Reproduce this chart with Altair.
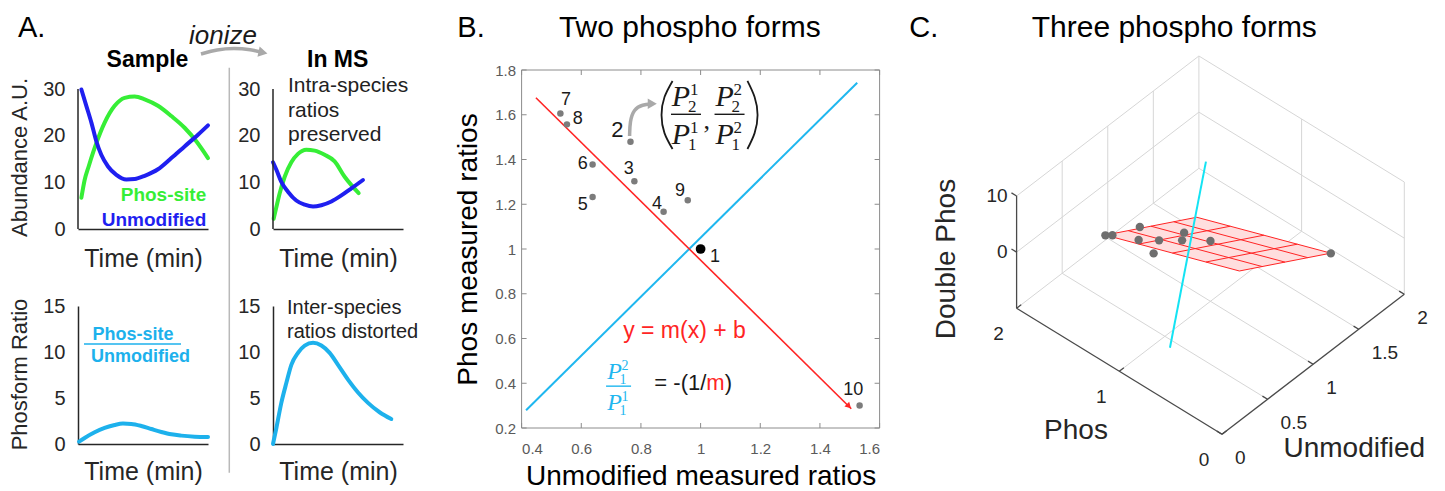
import altair as alt
import numpy as np
import pandas as pd

FONT = "Liberation Sans"
SERIF = "Liberation Serif"
INK = "#262626"
GREEN = "#36ee36"
BLUE = "#1f1ff0"
SKY = "#1db1ec"
RED = "#ff2424"
CYAN_B = "#1fb7ef"
CYAN_C = "#14e3f3"
PT_GRAY = "#7c7c7c"
ARROW_GRAY = "#a9a9a9"
BOX_GRAY = "#8c8c8c"
GRID_GRAY = "#d6d6d6"
AXIS_C = "#4a4a4a"

# ---------------- Panel A data (time in arbitrary units, 0-10) ----------------
a1_phos_t = [0.26, 0.51, 0.82, 1.15, 1.41, 2.05, 2.82, 3.59, 4.36, 5.13, 6.15, 7.18, 8.2, 9.1, 10.0]
a1_phos_v = [6.7, 10.5, 13.4, 16.3, 18.4, 22.8, 26.4, 28.1, 28.4, 27.8, 26.4, 24.2, 21.7, 18.8, 15.2]
a1_unmod_t = [0.26, 0.64, 1.03, 1.41, 1.79, 2.31, 2.95, 3.72, 4.36, 5.13, 6.15, 7.18, 8.2, 9.23, 10.0]
a1_unmod_v = [29.9, 26.4, 22.8, 18.8, 15.9, 13.4, 11.6, 10.6, 10.7, 11.4, 12.8, 15.2, 17.7, 20.2, 22.2]
a2_phos_t = [0.05, 0.26, 0.51, 0.9, 1.41, 1.92, 2.56, 3.2, 3.97, 4.74, 5.51, 6.03, 6.59]
a2_phos_v = [2.2, 4.7, 7.6, 11.2, 14.3, 16.1, 17.0, 16.8, 15.9, 14.5, 11.2, 9.4, 7.7]
a2_unmod_t = [0.0, 0.26, 0.64, 1.15, 1.79, 2.44, 3.08, 3.72, 4.49, 5.26, 6.03, 6.92]
a2_unmod_v = [14.3, 12.7, 10.1, 8.0, 6.1, 5.2, 4.8, 5.1, 5.9, 7.2, 8.7, 10.5]
a3_ratio_t = [0.08, 0.51, 1.28, 2.05, 2.82, 3.46, 4.1, 4.87, 5.64, 6.41, 7.18, 7.95, 8.97, 10.0]
a3_ratio_v = [0.25, 0.65, 1.27, 1.74, 2.07, 2.22, 2.18, 1.96, 1.63, 1.31, 1.05, 0.91, 0.8, 0.76]
a4_ratio_t = [0.0, 0.26, 0.64, 1.03, 1.41, 1.92, 2.44, 3.08, 3.72, 4.36, 5.0, 5.77, 6.54, 7.31, 8.2, 9.1]
a4_ratio_v = [0.0, 1.74, 4.47, 6.65, 8.6, 9.9, 10.7, 11.0, 10.7, 9.9, 8.6, 7.0, 5.6, 4.47, 3.45, 2.72]
abundance_ticks = [0, 10, 20, 30]
ratio_ticks = [0, 5, 10, 15]
ionize_arrow_t = [-5.54, -4.31, -3.0, -1.69, -0.77]
ionize_arrow_v = [37.5, 38.46, 38.79, 38.46, 37.82]

# ---------------- Panel B data ----------------
B_ids = ["1", "2", "3", "4", "5", "6", "7", "8", "9", "10"]
B_unmod = [1.0, 0.765, 0.778, 0.876, 0.638, 0.638, 0.53, 0.552, 0.957, 1.533]
B_phos = [1.0, 1.479, 1.303, 1.166, 1.232, 1.378, 1.606, 1.557, 1.218, 0.301]
B_label_x = [1.048, 0.721, 0.759, 0.854, 0.605, 0.605, 0.549, 0.588, 0.931, 1.512]
B_label_y = [0.963, 1.530, 1.356, 1.202, 1.196, 1.378, 1.664, 1.579, 1.259, 0.371]
B_xlim = [0.4, 1.6]
B_ylim = [0.2, 1.8]
B_xticks = [0.4, 0.6, 0.8, 1.0, 1.2, 1.4, 1.6]
B_yticks = [0.2, 0.4, 0.6, 0.8, 1.0, 1.2, 1.4, 1.6, 1.8]
red_fit_x = [0.448, 1.505]
red_fit_y = [1.676, 0.286]
cyan_perp_x = [0.415, 1.525]
cyan_perp_y = [0.279, 1.743]
pointer_x = [0.762, 0.763, 0.776, 0.805, 0.838]
pointer_y = [1.505, 1.570, 1.625, 1.645, 1.649]
paren_l_x = [0.906, 0.879, 0.869, 0.879, 0.906]
paren_r_x = [1.157, 1.181, 1.191, 1.181, 1.157]
paren_y = [1.751, 1.679, 1.599, 1.518, 1.447]

# ---------------- Panel C data ----------------
C_double = [0.74, 0.78, 0.22, 0.54, 0.45, 1.18, 0.81, 1.10, 0.31, -0.26]
C_unmod_ticks = [0, 0.5, 1, 1.5, 2]
C_phos_ticks = [0, 1, 2]
C_z_ticks = [0, 10]
C_z_lim = [-10, 10]
mesh_u = [0.53, 0.78, 1.03, 1.28, 1.533]
mesh_p = [0.301, 0.627, 0.953, 1.28, 1.606]
plane_coef = [9.1, -9.3, -6.32]          # z = a + b*(u-0.53) + c*(p-0.301)
normal_u = [0.434, 1.195]
normal_p = [0.892, 1.217]
normal_z = [-10, 10]

HEAD_DY = -33          # baseline of panel letters / titles, relative to the shared plot origin
LETTER_SIZE = 29
TITLE_SIZE = 30


# ======================= Panel A =======================
def a_x(pad):
    return alt.X("t:Q", scale=alt.Scale(domain=[0, 10], nice=False, zero=False),
                 axis=alt.Axis(labels=False, ticks=False, grid=False, domainColor=INK, domainWidth=1.5,
                               title="Time (min)", titleFontSize=25, titleFontWeight="normal",
                               titleColor=INK, titlePadding=pad))


def a_y(ymax, vals, show_domain):
    return alt.Y("v:Q", scale=alt.Scale(domain=[0, ymax], nice=False, zero=False),
                 axis=alt.Axis(values=vals, grid=False, ticks=False, domain=show_domain,
                               domainColor=INK, domainWidth=1.5,
                               labelFontSize=20, labelColor=INK, labelPadding=13, title=""))


def curve(t, v, color, x, y):
    return alt.Chart(pd.DataFrame({"t": t, "v": v})).mark_line(
        color=color, strokeWidth=4, interpolate="monotone", strokeCap="round").encode(x=x, y=y)


def txt(s, x, y, **mk):
    return alt.Chart(pd.DataFrame({"s": [s]})).mark_text(**mk).encode(
        text="s:N", x=alt.value(x), y=alt.value(y))


def y_axis_line(y, top):
    return alt.Chart(pd.DataFrame({"v": [0], "v2": [top]})).mark_rule(color=INK, strokeWidth=1.5).encode(
        x=alt.value(0), y=y, y2=alt.Y2("v2:Q"))


TOP_H = 159                       # taller top plots so every panel shares the same plot origin
TOP_MAX = 30 * TOP_H / 140.0

x1, y1 = a_x(17), a_y(TOP_MAX, abundance_ticks, False)
a1 = alt.layer(
    curve(a1_phos_t, a1_phos_v, GREEN, x1, y1),
    curve(a1_unmod_t, a1_unmod_v, BLUE, x1, y1),
    y_axis_line(y1, abundance_ticks[-1]),
    txt("A.", -60, HEAD_DY, fontSize=LETTER_SIZE, align="left", baseline="alphabetic", color="black"),
    txt("Abundance A.U.", -58, 87.5, fontSize=22, angle=270, align="center", baseline="middle", color=INK),
    txt("Sample", 69.5, -3, fontSize=23, fontWeight="bold", align="center", baseline="alphabetic", color="black"),
    txt("Phos-site", 85.5, 131, fontSize=19, fontWeight="bold", align="center", baseline="alphabetic", color=GREEN),
    txt("Unmodified", 76, 156, fontSize=19, fontWeight="bold", align="center", baseline="alphabetic", color=BLUE),
).properties(width=130, height=TOP_H)

x2, y2 = a_x(17), a_y(TOP_MAX, abundance_ticks, False)
arrow_df = pd.DataFrame({"t": ionize_arrow_t, "v": ionize_arrow_v})
a2 = alt.layer(
    curve(a2_phos_t, a2_phos_v, GREEN, x2, y2),
    curve(a2_unmod_t, a2_unmod_v, BLUE, x2, y2),
    y_axis_line(y2, abundance_ticks[-1]),
    alt.Chart(pd.DataFrame({"d": [0]})).mark_rule(color="#b9b9b9", strokeWidth=1.5).encode(
        x=alt.value(-43.7), y=alt.value(-2.3), y2=alt.value(402.7)),
    alt.Chart(arrow_df).mark_line(color=ARROW_GRAY, strokeWidth=3.5, interpolate="basis").encode(x=x2, y=y2),
    alt.Chart(arrow_df.tail(1)).mark_point(shape="triangle-right", filled=True, size=110, opacity=1,
                                           color=ARROW_GRAY, angle=12).encode(x=x2, y=y2),
    txt("ionize", -50, -26, fontSize=26, fontStyle="italic", align="center", baseline="alphabetic", color="#1a1a1a"),
    txt("In MS", 64.7, -3, fontSize=23, fontWeight="bold", align="center", baseline="alphabetic", color="black"),
    txt("Intra-species\nratios\npreserved", 15, 22, fontSize=21, lineBreak="\n", lineHeight=24.5,
        align="left", baseline="alphabetic", color="#222222"),
).properties(width=130, height=TOP_H)

x3, y3 = a_x(15), a_y(15, ratio_ticks, True)
a3 = alt.layer(
    curve(a3_ratio_t, a3_ratio_v, SKY, x3, y3),
    txt("Phosform Ratio", -58, 68.5, fontSize=22, angle=270, align="center", baseline="middle", color=INK),
    txt("Phos-site", 55, 34, fontSize=18, fontWeight="bold", align="center", baseline="alphabetic", color=SKY),
    alt.Chart(pd.DataFrame({"d": [0]})).mark_rule(color=SKY, strokeWidth=1.5).encode(
        x=alt.value(6), x2=alt.value(103), y=alt.value(38)),
    txt("Unmodified", 62.5, 56, fontSize=18, fontWeight="bold", align="center", baseline="alphabetic", color=SKY),
).properties(width=130, height=138)

x4, y4 = a_x(15), a_y(15, ratio_ticks, True)
a4 = alt.layer(
    curve(a4_ratio_t, a4_ratio_v, SKY, x4, y4),
    txt("Inter-species\nratios distorted", 14, 8, fontSize=20, lineBreak="\n", lineHeight=24,
        align="left", baseline="alphabetic", color="#222222"),
).properties(width=130, height=138)

panelA = alt.concat(a1, a2, a3, a4, columns=2, spacing={"row": 77, "column": 65}, bounds="flush")

# ======================= Panel B =======================
xB = alt.X("x:Q", scale=alt.Scale(domain=B_xlim, nice=False, zero=False),
           axis=alt.Axis(values=B_xticks, format=".1~f", domain=False, ticks=False, grid=False,
                         labelFontSize=15, labelColor="#5a5a5a", labelPadding=13,
                         title="Unmodified measured ratios", titleFontSize=28, titleFontWeight="normal",
                         titleColor="black", titlePadding=6))
yB = alt.Y("y:Q", scale=alt.Scale(domain=B_ylim, nice=False, zero=False),
           axis=alt.Axis(values=B_yticks, format=".1~f", domain=False, ticks=False, grid=False,
                         labelFontSize=15, labelColor="#5a5a5a", labelPadding=6,
                         title="Phos measured ratios", titleFontSize=28, titleFontWeight="normal",
                         titleColor="black", titlePadding=12))
x2B = alt.X2("x2:Q")
y2B = alt.Y2("y2:Q")

box_df = pd.DataFrame({
    "x": [B_xlim[0], B_xlim[0], B_xlim[0], B_xlim[1]],
    "x2": [B_xlim[1], B_xlim[1], B_xlim[0], B_xlim[1]],
    "y": [B_ylim[0], B_ylim[1], B_ylim[0], B_ylim[0]],
    "y2": [B_ylim[0], B_ylim[1], B_ylim[1], B_ylim[1]],
})
tx = 5 / 298.1
ty = 5 / 223.6
tick_rows = []
for v in B_xticks:
    tick_rows.append((v, B_ylim[0], v, B_ylim[0] + ty))
    tick_rows.append((v, B_ylim[1], v, B_ylim[1] - ty))
for v in B_yticks:
    tick_rows.append((B_xlim[0], v, B_xlim[0] + tx, v))
    tick_rows.append((B_xlim[1], v, B_xlim[1] - tx, v))
ticks_df = pd.DataFrame(tick_rows, columns=["x", "y", "x2", "y2"])

pts = pd.DataFrame({"x": B_unmod, "y": B_phos, "id": B_ids})
labs = pd.DataFrame({"x": B_label_x, "y": B_label_y, "id": B_ids})


def fraction_layers(df, color, psize, ssize, barlen, num_base, den_base, pdx, sdx, sup_up, sub_down):
    base = alt.Chart(df).encode(x=xB, y=yB)
    common = dict(font=SERIF, color=color, baseline="alphabetic")
    return [
        base.mark_tick(orient="horizontal", size=barlen, thickness=1.4, color=color, opacity=1),
        base.mark_text(text="P", fontStyle="italic", fontSize=psize, dx=pdx, dy=num_base, align="center", **common),
        base.mark_text(fontSize=ssize, dx=sdx, dy=num_base - sup_up, align="left", **common).encode(text="ns:N"),
        base.mark_text(fontSize=ssize, dx=sdx - 2, dy=num_base + sub_down, align="left", **common).encode(text="nb:N"),
        base.mark_text(text="P", fontStyle="italic", fontSize=psize, dx=pdx, dy=den_base, align="center", **common),
        base.mark_text(fontSize=ssize, dx=sdx, dy=den_base - sup_up, align="left", **common).encode(text="ds:N"),
        base.mark_text(fontSize=ssize, dx=sdx - 2, dy=den_base + sub_down, align="left", **common).encode(text="db:N"),
    ]


frac_big = pd.DataFrame({"x": [0.951, 1.097], "y": [1.602, 1.602],
                         "ns": ["1", "2"], "nb": ["2", "2"], "ds": ["1", "2"], "db": ["1", "1"]})
frac_cyan = pd.DataFrame({"x": [0.725], "y": [0.387], "ns": ["2"], "nb": ["1"], "ds": ["1"], "db": ["1"]})
paren_df = pd.DataFrame({
    "x": paren_l_x + paren_r_x,
    "y": paren_y + paren_y,
    "side": ["l"] * len(paren_y) + ["r"] * len(paren_y),
    "o": list(range(len(paren_y))) * 2,
})
comma = pd.DataFrame({"x": [1.0206], "y": [1.572], "s": [","]})
eq_df = pd.DataFrame({"x": [0.946], "y": [0.633], "s": ["y = m(x)  + b"]})
perp_df = pd.DataFrame({"x": [0.845], "y": [0.402]})

pointer_df = pd.DataFrame({"x": pointer_x, "y": pointer_y, "o": list(range(len(pointer_x)))})

layersB = [
    alt.Chart(box_df).mark_rule(color=BOX_GRAY, strokeWidth=1).encode(x=xB, y=yB, x2=x2B, y2=y2B),
    alt.Chart(ticks_df).mark_rule(color=BOX_GRAY, strokeWidth=1).encode(x=xB, y=yB, x2=x2B, y2=y2B),
    alt.Chart(pd.DataFrame({"x": cyan_perp_x, "y": cyan_perp_y})).mark_line(color=CYAN_B, strokeWidth=2).encode(x=xB, y=yB),
    alt.Chart(pd.DataFrame({"x": red_fit_x, "y": red_fit_y})).mark_line(color=RED, strokeWidth=1.6).encode(x=xB, y=yB),
    alt.Chart(pd.DataFrame({"x": [red_fit_x[1] - 0.008], "y": [red_fit_y[1] + 0.011]})).mark_point(
        shape="triangle-right", filled=True, size=45, color=RED, opacity=1, angle=45).encode(x=xB, y=yB),
    alt.Chart(pts[pts.id != "1"]).mark_point(filled=True, size=42, color=PT_GRAY, opacity=1).encode(x=xB, y=yB),
    alt.Chart(pts[pts.id == "1"]).mark_point(filled=True, size=95, color="black", opacity=1).encode(x=xB, y=yB),
    alt.Chart(labs[labs.id != "2"]).mark_text(fontSize=18, color="#1a1a1a", align="center", baseline="middle").encode(
        x=xB, y=yB, text="id:N"),
    alt.Chart(labs[labs.id == "2"]).mark_text(fontSize=22, color="#1a1a1a", align="center", baseline="middle").encode(
        x=xB, y=yB, text="id:N"),
    alt.Chart(pointer_df).mark_line(color=ARROW_GRAY, strokeWidth=3.5, interpolate="basis").encode(
        x=xB, y=yB, order="o:Q"),
    alt.Chart(pointer_df.tail(1)).mark_point(shape="triangle-right", filled=True, size=110, color=ARROW_GRAY,
                                             opacity=1).encode(x=xB, y=yB),
    alt.Chart(paren_df).mark_line(color="#1a1a1a", strokeWidth=1.8, interpolate="natural").encode(
        x=xB, y=yB, detail="side:N", order="o:Q"),
    alt.Chart(comma).mark_text(font=SERIF, fontSize=26, color="#1a1a1a", align="center", baseline="middle").encode(
        x=xB, y=yB, text="s:N"),
    alt.Chart(eq_df).mark_text(fontSize=23, color=RED, align="center", baseline="middle").encode(x=xB, y=yB, text="s:N"),
    alt.Chart(perp_df).mark_text(text="= -(1/", fontSize=22, color="#1a1a1a", align="left", baseline="middle").encode(x=xB, y=yB),
    alt.Chart(perp_df).mark_text(text="m", fontSize=22, color=RED, align="left", baseline="middle", dx=52).encode(x=xB, y=yB),
    alt.Chart(perp_df).mark_text(text=")", fontSize=22, color="#1a1a1a", align="left", baseline="middle", dx=70.3).encode(x=xB, y=yB),
    txt("B.", -64.3, HEAD_DY, fontSize=LETTER_SIZE, align="left", baseline="alphabetic", color="black"),
    txt("Two phospho forms", 168.2, HEAD_DY, fontSize=TITLE_SIZE, align="center", baseline="alphabetic", color="black"),
]
layersB += fraction_layers(frac_big, "#1a1a1a", 30, 17, 30, -8, 30, -5, 4, 11, 6)
layersB += fraction_layers(frac_cyan, CYAN_B, 24, 14, 25, -7, 24, -4, 3, 9, 5)
panelB = alt.layer(*layersB).properties(width=358, height=358)


# ======================= Panel C =======================
def proj(u, p, z):
    u = np.asarray(u, dtype=float)
    p = np.asarray(p, dtype=float)
    z = np.asarray(z, dtype=float)
    return 1222.7 + 91.15 * u - 102.7 * p, 433.3 - 70.0 * u - 63.0 * p - 5.615 * (z + 10)


def seg_df(segs):
    rows = []
    for (a, b) in segs:
        xa, ya = proj(*a)
        xb, yb = proj(*b)
        rows.append((float(xa), float(ya), float(xb), float(yb)))
    return pd.DataFrame(rows, columns=["x", "y", "x2", "y2"])


def plane_z(u, p):
    return plane_coef[0] + plane_coef[1] * (np.asarray(u) - mesh_u[0]) + plane_coef[2] * (np.asarray(p) - mesh_p[0])


U0, U1 = C_unmod_ticks[0], C_unmod_ticks[-1]
P0, P1 = C_phos_ticks[0], C_phos_ticks[-1]
Z0, Z1 = C_z_lim
light = [((U0, P1, Z0), (U1, P1, Z0)), ((U1, P0, Z0), (U1, P1, Z0))]
light += [((U0, p, Z0), (U1, p, Z0)) for p in C_phos_ticks[1:-1]]
light += [((u, P0, Z0), (u, P1, Z0)) for u in C_unmod_ticks[1:-1]]
light += [((u, P1, Z0), (u, P1, Z1)) for u in C_unmod_ticks[1:]]
light += [((U0, P1, z), (U1, P1, z)) for z in C_z_ticks]
light += [((U1, p, Z0), (U1, p, Z1)) for p in C_phos_ticks[:-1]]
light += [((U1, P0, z), (U1, P1, z)) for z in C_z_ticks]
dark = [((U0, P1, Z0), (U0, P1, Z1)), ((U0, P0, Z0), (U0, P1, Z0)), ((U0, P0, Z0), (U1, P0, Z0))]
tk = 0.05
cticks = [((U0, p, Z0), (U0 + tk, p, Z0)) for p in C_phos_ticks]
cticks += [((u, P0, Z0), (u, P0 + tk, Z0)) for u in C_unmod_ticks]
cticks += [((U0, P1, z), (U0, P1 + tk, z)) for z in C_z_ticks]

mesh = [((mesh_u[0], p, plane_z(mesh_u[0], p)), (mesh_u[-1], p, plane_z(mesh_u[-1], p))) for p in mesh_p]
mesh += [((u, mesh_p[0], plane_z(u, mesh_p[0])), (u, mesh_p[-1], plane_z(u, mesh_p[-1]))) for u in mesh_u]

# plane fill polygon -> area (upper / lower chains)
cu = [mesh_u[0], mesh_u[-1], mesh_u[-1], mesh_u[0]]
cp = [mesh_p[-1], mesh_p[-1], mesh_p[0], mesh_p[0]]
cx, cy = proj(cu, cp, plane_z(cu, cp))
L, T, R, Bo = 0, 1, 2, 3
xs = np.sort(cx)
upper = np.interp(xs, [cx[L], cx[T], cx[R]], [cy[L], cy[T], cy[R]])
lower = np.interp(xs, [cx[L], cx[Bo], cx[R]], [cy[L], cy[Bo], cy[R]])
fill_df = pd.DataFrame({"x": xs, "y": upper, "y2": lower})

nx, ny = proj(normal_u, normal_p, normal_z)
normal_df = pd.DataFrame({"x": nx, "y": ny})
px_, py_ = proj(B_unmod, B_phos, C_double)
cpts = pd.DataFrame({"x": px_, "y": py_})

C_ORIGIN_Y = 69
xC = alt.X("x:Q", scale=alt.Scale(domain=[1000, 1430], nice=False, zero=False), axis=None)
yC = alt.Y("y:Q", scale=alt.Scale(domain=[C_ORIGIN_Y, C_ORIGIN_Y + 420], nice=False, zero=False, reverse=True),
           axis=None)
x2C = alt.X2("x2:Q")
y2C = alt.Y2("y2:Q")


def tick_labels(u, p, z, labels):
    x, y = proj(u, p, z)
    return pd.DataFrame({"x": x, "y": y, "s": labels})


phos_lab = tick_labels([U0] * len(C_phos_ticks), C_phos_ticks, [Z0] * len(C_phos_ticks),
                       [f"{v:g}" for v in C_phos_ticks])
unmod_lab = tick_labels(C_unmod_ticks, [P0] * len(C_unmod_ticks), [Z0] * len(C_unmod_ticks),
                        [f"{v:g}" for v in C_unmod_ticks])
z_lab = tick_labels([U0] * len(C_z_ticks), [P1] * len(C_z_ticks), C_z_ticks, [f"{v:g}" for v in C_z_ticks])
c_titles = pd.DataFrame({"x": [1076.7, 1355.0], "y": [430.0, 448.3], "s": ["Phos", "Unmodified"]})
head_y = float(C_ORIGIN_Y + HEAD_DY)

layersC = [
    alt.Chart(seg_df(light)).mark_rule(color=GRID_GRAY, strokeWidth=1).encode(x=xC, y=yC, x2=x2C, y2=y2C),
    alt.Chart(seg_df(dark)).mark_rule(color=AXIS_C, strokeWidth=1.3).encode(x=xC, y=yC, x2=x2C, y2=y2C),
    alt.Chart(seg_df(cticks)).mark_rule(color=AXIS_C, strokeWidth=1.3).encode(x=xC, y=yC, x2=x2C, y2=y2C),
    alt.Chart(fill_df).mark_area(color="#ffdede", opacity=1).encode(x=xC, y=yC, y2=y2C),
    alt.Chart(seg_df(mesh)).mark_rule(color=RED, strokeWidth=1).encode(x=xC, y=yC, x2=x2C, y2=y2C),
    alt.Chart(normal_df).mark_line(color=CYAN_C, strokeWidth=2).encode(x=xC, y=yC),
    alt.Chart(cpts).mark_point(filled=True, size=70, color="#6e6e6e", opacity=1).encode(x=xC, y=yC),
    alt.Chart(phos_lab).mark_text(fontSize=19, color=INK, align="center", baseline="middle", dx=-18, dy=26).encode(
        x=xC, y=yC, text="s:N"),
    alt.Chart(unmod_lab).mark_text(fontSize=19, color=INK, align="left", baseline="middle", dx=13, dy=24).encode(
        x=xC, y=yC, text="s:N"),
    alt.Chart(z_lab).mark_text(fontSize=19, color=INK, align="right", baseline="middle", dx=-9).encode(
        x=xC, y=yC, text="s:N"),
    alt.Chart(c_titles).mark_text(fontSize=28, color=INK, align="center", baseline="middle").encode(
        x=xC, y=yC, text="s:N"),
    alt.Chart(pd.DataFrame({"x": [948.0], "y": [258.0], "s": ["Double Phos"]})).mark_text(
        fontSize=28, color=INK, align="center", baseline="middle", angle=270).encode(x=xC, y=yC, text="s:N"),
    alt.Chart(pd.DataFrame({"x": [910.0], "y": [head_y], "s": ["C."]})).mark_text(
        fontSize=LETTER_SIZE, color="black", align="left", baseline="alphabetic").encode(x=xC, y=yC, text="s:N"),
    alt.Chart(pd.DataFrame({"x": [1175.0], "y": [head_y], "s": ["Three phospho forms"]})).mark_text(
        fontSize=TITLE_SIZE, color="black", align="center", baseline="alphabetic").encode(x=xC, y=yC, text="s:N"),
]
panelC = alt.layer(*layersC).properties(width=430, height=420)

chart = alt.hconcat(
    panelA,
    alt.hconcat(panelB, panelC, spacing=27.7),
    spacing=34.6,
).properties(
    padding={"left": 0, "top": 4, "right": 0, "bottom": 0},
    background="white",
).configure_view(
    stroke="transparent"
).configure_axis(
    labelFont=FONT, titleFont=FONT, grid=False
).configure_text(
    font=FONT
)

chart.save("out.html", embed_options={"renderer": "svg", "actions": False})
